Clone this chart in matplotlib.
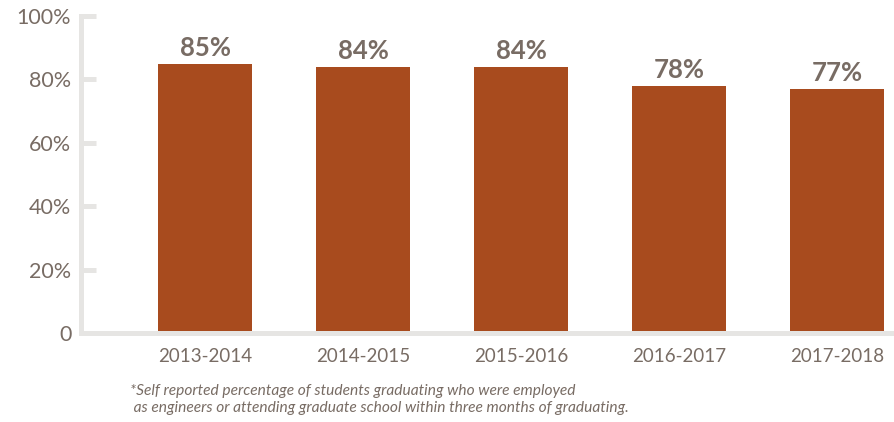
import matplotlib
matplotlib.use("Agg")
import matplotlib.pyplot as plt

years = ["2013-2014", "2014-2015", "2015-2016", "2016-2017", "2017-2018"]
rates = [85, 84, 84, 78, 77]
y_ticks = [0, 20, 40, 60, 80, 100]
y_labels = ["0", "20%", "40%", "60%", "80%", "100%"]

BAR = "#a84b1e"
TEXT = "#786c64"
AXIS = "#e6e5e3"

plt.rcParams["font.family"] = ["Lato", "DejaVu Sans"]

fig = plt.figure(figsize=(8.95, 4.22), dpi=100)
ax = fig.add_axes([0.0905, 0.211, 0.9095, 0.751])

x = list(range(len(years)))
ax.bar(x, rates, width=0.595, color=BAR, zorder=2)

for xi, v in zip(x, rates):
    ax.text(xi, v + 1.2, f"{v}%", ha="center", va="bottom",
            fontsize=18.5, fontweight="bold", color=TEXT)

ax.set_xlim(-0.785, 4.367)
ax.set_ylim(0, 100)

ax.set_yticks(y_ticks)
ax.set_yticklabels(y_labels, fontsize=15.5)
ax.set_xticks(x)
ax.set_xticklabels(years, fontsize=13.5)

ax.tick_params(axis="y", direction="in", length=11, width=3.6, color=AXIS,
               labelcolor=TEXT, pad=7)
ax.tick_params(axis="x", length=0, pad=11, labelcolor=TEXT)

for side in ("top", "right"):
    ax.spines[side].set_visible(False)
for side in ("left", "bottom"):
    ax.spines[side].set_color(AXIS)
    ax.spines[side].set_linewidth(3.6)
    ax.spines[side].set_capstyle("projecting")

fig.text(0.145, 0.091,
         "*Self reported percentage of students graduating who were employed\n"
         " as engineers or attending graduate school within three months of graduating.",
         fontsize=11.2, style="italic", color=TEXT,
         ha="left", va="top", linespacing=1.3)

fig.savefig("out.png", dpi=100)
